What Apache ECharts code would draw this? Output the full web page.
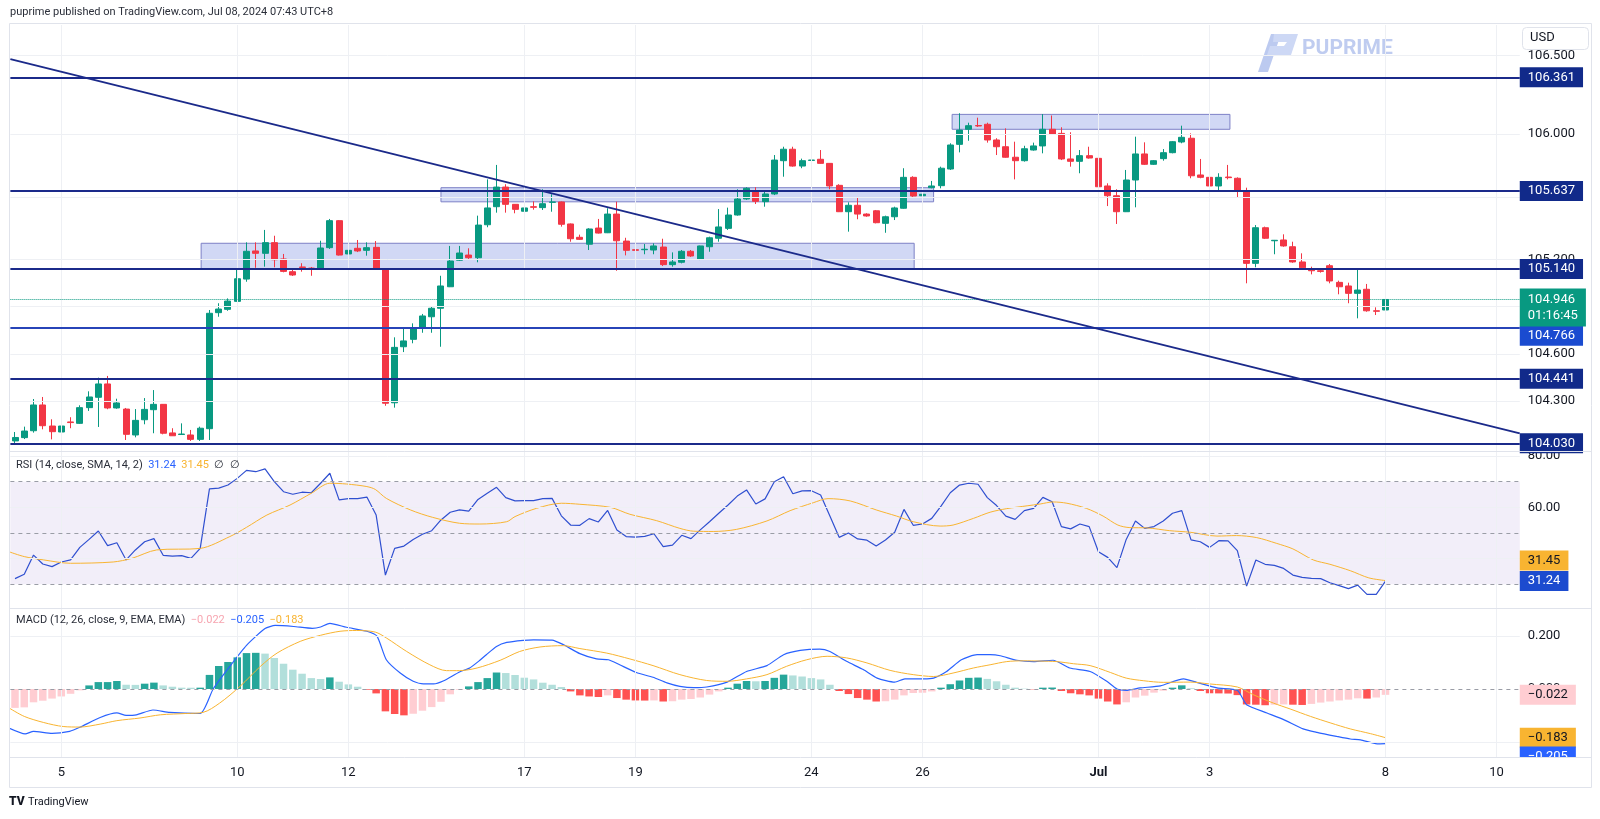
<!DOCTYPE html>
<html><head><meta charset="utf-8">
<script src="https://cdn.jsdelivr.net/npm/echarts@6/dist/echarts.min.js"></script>
<style>html,body{margin:0;padding:0;background:#fff}#c{width:1600px;height:819px}</style>
</head><body><div id="c"></div>
<script>
// ---------- DATA ----------
const opens = [104.045,104.066,104.110,104.274,104.140,104.102,104.166,104.157,104.257,104.323,
104.408,104.255,104.248,104.083,104.180,104.244,104.278,104.096,104.086,104.083,
104.055,104.123,104.862,104.883,104.934,105.076,105.255,105.240,105.308,105.204,
105.123,105.153,105.146,105.142,105.276,105.448,105.236,105.272,105.259,105.278,
105.138,104.288,104.645,104.692,104.769,104.836,104.890,105.027,105.196,105.229,
105.212,105.422,105.537,105.662,105.552,105.508,105.537,105.531,105.565,105.567,
105.427,105.342,105.298,105.401,105.371,105.490,105.318,105.263,105.263,105.261,
105.280,105.168,105.183,105.253,105.202,105.282,105.336,105.399,105.484,105.586,
105.635,105.569,105.618,105.830,105.903,105.796,105.832,105.839,105.813,105.673,
105.505,105.546,105.490,105.511,105.431,105.473,105.527,105.724,105.607,105.658,
105.671,105.777,105.934,106.030,106.054,106.062,105.962,105.919,105.852,105.830,
105.898,105.924,106.030,106.004,105.841,105.826,105.862,105.845,105.669,105.607,
105.505,105.707,105.873,105.807,105.843,105.881,105.949,105.973,105.739,105.724,
105.669,105.726,105.718,105.633,105.176,105.403,105.320,105.325,105.282,105.185,
105.140,105.129,105.161,105.055,105.032,104.985,105.011,104.874,104.879];
const closes = [104.067,104.108,104.274,104.142,104.104,104.140,104.162,104.257,104.325,104.408,
104.255,104.287,104.087,104.176,104.246,104.278,104.094,104.078,104.089,104.055,
104.126,104.858,104.885,104.936,105.078,105.253,105.240,105.308,105.199,105.125,
105.102,105.150,105.142,105.274,105.448,105.229,105.259,105.255,105.276,105.138,
104.285,104.641,104.682,104.763,104.841,104.890,105.032,105.191,105.242,105.212,
105.420,105.529,105.662,105.552,105.520,105.529,105.533,105.556,105.567,105.425,
105.333,105.329,105.395,105.369,105.490,105.320,105.259,105.259,105.266,105.287,
105.168,105.185,105.253,105.223,105.287,105.339,105.408,105.484,105.586,105.654,
105.571,105.618,105.834,105.903,105.796,105.830,105.834,105.813,105.669,105.505,
105.546,105.490,105.478,105.435,105.473,105.529,105.724,105.605,105.616,105.669,
105.782,105.930,106.025,106.053,106.051,105.962,105.919,105.852,105.830,105.906,
105.924,106.030,106.000,105.841,105.826,105.862,105.847,105.664,105.607,105.505,
105.707,105.873,105.807,105.830,105.881,105.951,105.979,105.734,105.724,105.669,
105.724,105.722,105.643,105.176,105.403,105.336,105.323,105.287,105.185,105.148,
105.129,105.125,105.064,105.027,104.985,105.006,104.874,104.871,104.946];
const lows = [104.032,104.057,104.098,104.119,104.055,104.098,104.126,104.153,104.236,104.134,
104.247,104.250,104.051,104.068,104.151,104.094,104.087,104.077,104.083,104.045,
104.045,104.051,104.836,104.874,104.932,105.059,105.148,105.155,105.151,105.119,
105.096,105.123,105.097,105.140,105.268,105.226,105.183,105.248,105.225,105.134,
104.269,104.257,104.611,104.667,104.734,104.734,104.645,105.025,105.191,105.204,
105.183,105.406,105.499,105.499,105.495,105.490,105.518,105.516,105.505,105.410,
105.314,105.325,105.261,105.366,105.369,105.129,105.227,105.240,105.234,105.234,
105.159,105.155,105.176,105.217,105.197,105.250,105.314,105.389,105.480,105.580,
105.554,105.537,105.611,105.728,105.792,105.782,105.807,105.811,105.648,105.503,
105.378,105.457,105.473,105.431,105.371,105.452,105.524,105.597,105.590,105.654,
105.654,105.771,105.883,105.957,106.045,105.945,105.866,105.849,105.711,105.824,
105.894,105.877,105.994,105.834,105.792,105.750,105.843,105.654,105.541,105.427,
105.503,105.533,105.803,105.803,105.830,105.877,105.941,105.718,105.718,105.664,
105.639,105.711,105.594,105.049,105.151,105.331,105.234,105.282,105.180,105.134,
105.106,105.117,105.049,104.979,104.922,104.826,104.868,104.847,104.876];
const highs = [104.102,104.136,104.312,104.325,104.183,104.157,104.196,104.272,104.361,104.448,
104.459,104.314,104.255,104.248,104.318,104.369,104.280,104.126,104.157,104.115,
104.136,104.879,104.922,104.953,105.134,105.310,105.310,105.389,105.352,105.236,
105.134,105.177,105.153,105.320,105.459,105.452,105.280,105.325,105.310,105.318,
105.146,104.705,104.763,104.794,104.854,104.900,105.097,105.287,105.287,105.272,
105.480,105.711,105.803,105.680,105.554,105.559,105.571,105.648,105.616,105.570,
105.430,105.359,105.400,105.459,105.527,105.569,105.339,105.287,105.299,105.304,
105.333,105.246,105.261,105.261,105.289,105.346,105.522,105.531,105.648,105.661,
105.661,105.633,105.866,105.919,105.919,105.843,105.898,105.898,105.815,105.680,
105.565,105.597,105.495,105.516,105.480,105.537,105.782,105.731,105.654,105.701,
105.792,105.941,106.132,106.072,106.104,106.072,105.973,106.036,105.951,105.925,
105.945,106.127,106.118,106.043,106.011,105.898,105.919,105.849,105.686,105.648,
105.771,105.983,105.947,105.834,105.904,105.955,106.053,106.004,105.841,105.733,
105.750,105.803,105.724,105.658,105.420,105.410,105.325,105.361,105.314,105.240,
105.155,105.145,105.172,105.066,105.053,105.145,105.045,104.896,104.987];

const rsi = [32.2,33.9,41.4,37.9,36.9,38.7,39.5,44.4,47.5,50.8,
45.1,46.2,39.5,43.4,46.6,47.8,41.3,41.0,41.2,40.1,
44.0,67.2,67.5,68.7,71.3,74.4,73.9,75.0,70.0,66.1,
65.1,65.9,65.7,69.4,73.3,62.9,63.4,63.4,64.0,57.0,
33.6,44.0,44.9,47.5,49.5,50.9,55.1,58.1,59.0,58.5,
63.1,65.5,67.8,63.8,62.5,62.6,62.6,63.4,63.5,56.7,
53.1,53.0,55.6,54.3,58.8,51.2,48.6,48.4,48.7,49.7,
44.7,45.3,49.1,47.8,51.2,54.4,57.7,60.9,64.4,66.8,
61.3,63.3,70.0,71.9,65.3,66.4,66.5,64.8,56.6,48.3,
50.0,47.7,47.2,44.9,47.3,50.3,59.2,53.0,53.5,55.7,
60.5,65.7,68.7,69.4,69.0,63.8,60.7,56.6,55.3,58.7,
59.6,63.9,62.2,52.5,51.6,53.5,52.5,42.7,40.5,36.5,
47.5,54.7,51.8,52.5,54.7,57.7,58.7,47.3,46.6,44.4,
47.0,46.9,43.1,29.3,39.5,37.8,37.4,36.2,33.6,32.7,
32.3,32.2,30.6,29.5,28.3,29.7,26.1,26.1,31.24];
// RSI smoothing line: [bar index, value]
const rsiSma = [[-0.65,42.7],[1,40.8],[3.1,39.5],[6,38.2],[10.6,38.7],[12.6,40.1],[15.3,43.4],[20,44.0],[23.2,48.6],[25,52.2],
[27.2,57.0],[29.7,60.9],[32,65.5],[34,69.4],[35.8,69.1],[38,68.1],[38.9,67.0],[40.1,63.5],[42.7,59.0],[45.1,56.1],
[48,53.8],[50.2,53.5],[53.1,54.4],[54,56.4],[56.3,59.6],[59,61.6],[61,61.2],[64.3,60.0],[66.4,57.3],[69.3,54.8],
[71.8,51.8],[73.3,50.7],[75.4,50.6],[77.9,51.4],[81.2,54.7],[83.7,58.7],[86.2,61.8],[87.8,63.4],[90.2,62.5],[93,59.0],
[95.2,56.6],[97,54.4],[99.9,52.7],[101.3,53.1],[103.5,55.7],[105.3,58.1],[107.1,59.5],[109.3,60.6],[110.7,61.3],[112.1,62.1],
[113.6,61.6],[115.7,59.6],[117.5,56.6],[119.1,53.1],[120.4,52.1],[122.2,52.0],[124.7,50.9],[126.9,50.3],[129.8,48.8],[131.9,49.0],
[134.1,48.2],[136.2,46.0],[138,43.8],[140.2,39.5],[142,37.8],[144.2,35.3],[146.2,32.5],[148,31.45]];

const macdLine = [[-0.65,-0.147],[1.1,-0.169],[2,-0.159],[4,-0.167],[5.9,-0.159],[7,-0.144],[9.2,-0.107],[11,-0.090],[12,-0.099],[13.1,-0.097],
[14.9,-0.079],[16.7,-0.088],[20,-0.092],[21.4,0.0],[23.2,0.085],[25,0.164],[27,0.227],[28.1,0.239],[30.1,0.235],[32.1,0.228],
[33,0.233],[34,0.247],[35.8,0.232],[38,0.217],[39.1,0.198],[40.1,0.110],[41.6,0.060],[43,0.029],[44.1,0.019],[45.2,0.019],
[46.3,0.031],[48,0.064],[49.1,0.079],[50.2,0.108],[50.9,0.129],[52,0.160],[53.1,0.175],[54.9,0.183],[56,0.185],[58,0.184],
[59.2,0.167],[61,0.133],[62.8,0.113],[64.1,0.110],[65.3,0.091],[67.1,0.062],[68.9,0.044],[70.4,0.023],[71.8,0.010],[73.3,0.005],
[74.7,0.0075],[76.9,0.026],[79,0.066],[81.2,0.088],[83,0.129],[84.8,0.145],[86.9,0.150],[88,0.141],[89.8,0.104],[91.6,0.073],
[93.1,0.041],[95,0.026],[96.1,0.038],[98.1,0.038],[99.2,0.041],[100.6,0.066],[102.2,0.110],[103.9,0.129],[105.3,0.129],[106.4,0.125],
[108.2,0.108],[110,0.103],[112.1,0.108],[113.9,0.079],[116.1,0.066],[117.9,0.029],[119,0.0],[120,-0.005],[121.5,0.004],[123.7,0.012],
[126.2,0.038],[127.6,0.025],[129.8,0.004],[132,-0.005],[133,-0.059],[135.2,-0.090],[137,-0.115],[139.1,-0.150],[140.6,-0.163],[142.7,-0.178],
[144.2,-0.188],[145.3,-0.191],[147.1,-0.206],[148,-0.205]];
const signalLine = [[-0.65,-0.071],[1,-0.103],[3.1,-0.126],[5.2,-0.141],[7,-0.143],[9.2,-0.132],[11,-0.119],[13.5,-0.109],[15.7,-0.097],[18.5,-0.092],
[20.3,-0.088],[22.1,-0.053],[24.3,0.010],[26.5,0.085],[28.3,0.135],[30.8,0.179],[33,0.202],[35.1,0.217],[36.9,0.220],[38.9,0.214],
[40.1,0.192],[42.3,0.141],[44.8,0.091],[46.6,0.069],[48,0.069],[49.9,0.079],[52.4,0.108],[54.5,0.141],[56.7,0.158],[59.2,0.163],
[61,0.152],[63.9,0.135],[66.4,0.113],[68.9,0.088],[71.8,0.054],[74.7,0.032],[76.9,0.029],[79,0.038],[81.2,0.054],[83.3,0.085],
[85.5,0.110],[87.7,0.123],[89.8,0.117],[92,0.098],[94.5,0.070],[97,0.054],[99.2,0.047],[101.3,0.060],[103.5,0.079],[105.3,0.091],
[107.1,0.103],[108.9,0.106],[110.7,0.105],[112.5,0.103],[114.3,0.095],[116.1,0.088],[118.3,0.062],[120,0.041],[121.9,0.031],[124,0.025],
[126.9,0.026],[129,0.019],[132,0.0075],[133.7,-0.021],[135.9,-0.053],[137.7,-0.075],[139.9,-0.103],[142.1,-0.128],[144.2,-0.150],[146.4,-0.168],
[148,-0.183]];
const macdHist = [-0.071,-0.069,-0.050,-0.044,-0.036,-0.028,-0.018,-0.005,0.0135,0.026,
0.026,0.030,0.016,0.0155,0.020,0.024,0.0135,0.0086,0.005,0.0048,
0.005,0.053,0.0865,0.1015,0.119,0.135,0.136,0.133,0.1165,0.095,
0.0726,0.0575,0.041,0.0376,0.0436,0.0274,0.0173,0.0086,-0.0026,-0.0165,
-0.084,-0.094,-0.099,-0.093,-0.0816,-0.068,-0.048,-0.020,-0.003,0.0098,
0.026,0.041,0.062,0.060,0.0526,0.0425,0.036,0.0237,0.016,0.0075,
-0.009,-0.024,-0.028,-0.030,-0.024,-0.034,-0.040,-0.043,-0.0435,-0.043,
-0.047,-0.046,-0.040,-0.0376,-0.032,-0.021,-0.009,0.005,0.020,0.030,
0.029,0.030,0.042,0.054,0.051,0.047,0.041,0.036,0.016,-0.0075,
-0.019,-0.034,-0.040,-0.047,-0.046,-0.040,-0.024,-0.015,-0.014,-0.009,
0.005,0.018,0.032,0.042,0.043,0.038,0.029,0.016,0.005,0.0013,
-0.0013,0.005,0.0055,-0.0075,-0.016,-0.020,-0.024,-0.036,-0.047,-0.058,
-0.050,-0.032,-0.025,-0.0137,-0.0063,0.005,0.0138,0.003,-0.0075,-0.016,
-0.0165,-0.017,-0.023,-0.058,-0.059,-0.061,-0.059,-0.058,-0.059,-0.060,
-0.056,-0.051,-0.047,-0.043,-0.040,-0.035,-0.036,-0.032,-0.022];

const dayLabelIdx  = [5, 24, 36, 55, 67, 86, 98, 117, 129, 148, 160];
const dayLabelText = ['5','10','12','17','19','24','26','Jul','3','8','10'];
const levels = [106.361, 105.637, 105.140, 104.766, 104.441, 104.030];
// rectangles: [startBar, topPrice, endBar, bottomPrice]
const boxes = [[20.1,105.304,97.1,105.140],[46.0,105.658,99.2,105.568],[101.2,106.125,131.2,106.030]];
const trend = [[-0.5,106.477],[162.5,104.093]];
const priceTicks = [106.5, 106.0, 105.6, 105.2, 104.9, 104.6, 104.3];
const rsiTicks = [80, 60];
const rsiGrid = [80, 60, 40];
const rsiBands = [70, 50, 30];
const macdTicks = [0.2, 0];
const macdGrid = [0.2, -0.2];
const countdown = '01:16:45';
const headerText = 'puprime published on TradingView.com, Jul 08, 2024 07:43 UTC+8';
const N = 163; // bar slots on the time axis (incl. empty future space)

// ---------- LAYOUT / STYLE ----------
const F = 'Roboto, "Noto Sans", sans-serif';
const L = 10.37, W = 1509.4;
const UP = '#089981', DOWN = '#f23645';
const NAVY = '#1b2a8a', NAVYBG = '#112a8a';
const ORANGE = '#f8b431', BLUE = '#2962ff', RSIBLUE = '#2f4fd0';
const GRIDC = '#eef0f4';
const HIDDEN = {color: 'rgba(0,0,0,0)', width: 1, type: 'solid'};
const last = closes[closes.length - 1];
const lastRsi = rsi[rsi.length - 1], lastSma = rsiSma[rsiSma.length - 1][1];
const lastHist = macdHist[macdHist.length - 1];
const lastMacd = macdLine[macdLine.length - 1][1], lastSig = signalLine[signalLine.length - 1][1];
const fmt = v => (v < 0 ? '\u2212' : '') + Math.abs(v).toFixed(3);

const cats = Array.from({length: N}, (_, i) => String(i));
const labelMap = {};
dayLabelIdx.forEach((i, k) => labelMap[i] = dayLabelText[k]);

const grids = [
  {left: L, width: W, top: 25, height: 426},
  {left: L, width: W, top: 451, height: 157},
  {left: L, width: W, top: 608, height: 149}
];
const catAxis = (gi, show) => ({
  type: 'category', gridIndex: gi, data: cats, boundaryGap: true,
  axisLine: {show: false}, axisTick: {show: false}, splitLine: {show: false},
  axisLabel: show ? {
    show: true, interval: 0, margin: 9, color: '#131722', fontSize: 13, fontFamily: F,
    formatter: (v, i) => { const t = labelMap[i] || ''; return t === 'Jul' ? '{m|Jul}' : t; },
    rich: {m: {fontWeight: 'bold', fontSize: 13, color: '#131722', fontFamily: F}}
  } : {show: false}
});
const valAxis = gi => ({type: 'value', gridIndex: gi, min: -0.5, max: N - 0.5, show: false});

function labelBox(bg, fg, extra) {
  return Object.assign({show: true, position: 'end', distance: 0, backgroundColor: bg, color: fg,
    fontSize: 13, fontFamily: F, padding: [3, 8, 2, 8], lineHeight: 15}, extra || {});
}
function histColor(i) {
  const v = macdHist[i], p = i > 0 ? macdHist[i - 1] : -Infinity;
  if (v >= 0) return v >= p ? '#26a69a' : '#b2dfdb';
  return v < p ? '#ff5252' : '#ffcdd2';
}
const vGrid = dayLabelIdx.map(i => ({xAxis: i}));

const option = {
  animation: false,
  backgroundColor: '#ffffff',
  grid: grids.map(g => Object.assign({containLabel: false, outerBoundsMode: 'none'}, g)),
  xAxis: [catAxis(0, false), catAxis(1, false), catAxis(2, true), valAxis(0), valAxis(1), valAxis(2)],
  yAxis: [
    {type: 'value', gridIndex: 0, position: 'right', min: 103.9809, max: 106.6943, scale: true,
      axisLine: {show: false}, axisTick: {show: false}, splitLine: {show: false},
      axisLabel: {customValues: priceTicks, margin: 8, color: '#131722', fontSize: 13, fontFamily: F, formatter: v => v.toFixed(3)}},
    {type: 'value', gridIndex: 1, position: 'right', min: 20.76, max: 81.97,
      axisLine: {show: false}, axisTick: {show: false}, splitLine: {show: false},
      axisLabel: {customValues: rsiTicks, margin: 8, color: '#131722', fontSize: 13, fontFamily: F, formatter: v => v.toFixed(2)}},
    {type: 'value', gridIndex: 2, position: 'right', min: -0.2556, max: 0.3045,
      axisLine: {show: false}, axisTick: {show: false}, splitLine: {show: false},
      axisLabel: {customValues: macdTicks, margin: 8, color: '#131722', fontSize: 13, fontFamily: F, formatter: v => v.toFixed(3)}}
  ],
  series: [
    // grid lines (behind everything)
    {type: 'line', xAxisIndex: 3, yAxisIndex: 0, data: [], z: 0, silent: true,
      markLine: {silent: true, symbol: 'none', label: {show: false}, lineStyle: {color: GRIDC, width: 1, type: 'solid'},
        data: vGrid.concat(priceTicks.map(v => ({yAxis: v})))}},
    {type: 'line', xAxisIndex: 4, yAxisIndex: 1, data: [], z: 0, silent: true,
      markArea: {silent: true, itemStyle: {color: 'rgba(126,87,194,0.1)'}, data: [[{yAxis: rsiBands[0]}, {yAxis: rsiBands[2]}]]},
      markLine: {silent: true, symbol: 'none', label: {show: false}, lineStyle: {color: GRIDC, width: 1, type: 'solid'},
        data: vGrid.concat(rsiGrid.map(v => ({yAxis: v})))}},
    {type: 'line', xAxisIndex: 5, yAxisIndex: 2, data: [], z: 0, silent: true,
      markLine: {silent: true, symbol: 'none', label: {show: false}, lineStyle: {color: GRIDC, width: 1, type: 'solid'},
        data: vGrid.concat(macdGrid.map(v => ({yAxis: v})))}},
    // candles
    {type: 'candlestick', xAxisIndex: 0, yAxisIndex: 0, z: 2, barWidth: 6.5,
      data: opens.map((o, i) => [o, closes[i], lows[i], highs[i]]),
      itemStyle: {color: UP, color0: DOWN, borderColor: UP, borderColor0: DOWN, borderWidth: 1}},
    // drawings: trend line, boxes, level lines
    {type: 'line', xAxisIndex: 3, yAxisIndex: 0, data: trend, z: 5, symbol: 'none', silent: true,
      lineStyle: {color: NAVY, width: 2},
      markArea: {silent: true, itemStyle: {color: 'rgba(72,100,215,0.25)', borderColor: '#7d80c6', borderWidth: 1},
        data: boxes.map(b => [{coord: [b[0], b[1]]}, {coord: [b[2], b[3]]}])},
      markLine: {silent: true, symbol: 'none', precision: 3, data: levels.map(v => {
          const hi = v === 104.766;
          return {yAxis: v, lineStyle: {color: hi ? '#2744b8' : NAVY, width: 2, type: 'solid'},
            label: labelBox(hi ? '#1a4bd0' : NAVYBG, '#ffffff', {formatter: () => v.toFixed(3), offset: hi ? [0, 8] : [0, 0]})};
        }).concat([{yAxis: last, lineStyle: {color: UP, width: 1, type: 'dotted'},
            label: labelBox(UP, '#ffffff', {formatter: () => last.toFixed(3) + '\n' + countdown, lineHeight: 16, padding: [3, 8, 3, 8], offset: [0, 8]})}])}},
    // RSI
    {type: 'line', xAxisIndex: 1, yAxisIndex: 1, data: rsi, z: 3, symbol: 'none', silent: true,
      lineStyle: {color: RSIBLUE, width: 1.2},
      markLine: {silent: true, symbol: 'none', precision: 2, data: rsiBands.map(v => ({yAxis: v, lineStyle: {color: '#9a9da6', width: 1, type: [4, 4]}, label: {show: false}}))
        .concat([{yAxis: lastRsi, lineStyle: HIDDEN, label: labelBox('#1c4bcf', '#ffffff', {formatter: () => lastRsi.toFixed(2)})},
                 {yAxis: lastSma, lineStyle: HIDDEN, label: labelBox(ORANGE, '#131722', {formatter: () => lastSma.toFixed(2), offset: [0, -20]})}])}},
    {type: 'line', xAxisIndex: 4, yAxisIndex: 1, data: rsiSma, z: 3, symbol: 'none', silent: true, smooth: 0.3,
      lineStyle: {color: ORANGE, width: 1}},
    // MACD
    {type: 'bar', xAxisIndex: 2, yAxisIndex: 2, data: macdHist, z: 2, barWidth: 7.5, silent: true,
      itemStyle: {color: p => histColor(p.dataIndex)},
      markLine: {silent: true, symbol: 'none', precision: 3, data: [
        {yAxis: 0, lineStyle: {color: '#9a9da6', width: 1, type: [4, 4]}, label: {show: false}},
        {yAxis: lastHist, lineStyle: HIDDEN, label: labelBox('#ffcdd2', '#131722', {formatter: () => fmt(lastHist)})},
        {yAxis: lastSig, lineStyle: HIDDEN, label: labelBox(ORANGE, '#131722', {formatter: () => fmt(lastSig)})},
        {yAxis: lastMacd, lineStyle: HIDDEN, label: labelBox(BLUE, '#ffffff', {formatter: () => fmt(lastMacd), offset: [0, 13]})}
      ]}},
    {type: 'line', xAxisIndex: 5, yAxisIndex: 2, data: macdLine, z: 3, symbol: 'none', silent: true, smooth: 0.2,
      lineStyle: {color: BLUE, width: 1.2}},
    {type: 'line', xAxisIndex: 5, yAxisIndex: 2, data: signalLine, z: 3, symbol: 'none', silent: true, smooth: 0.3,
      lineStyle: {color: ORANGE, width: 1}}
  ],
  graphic: [
    // frame & pane separators
    {type: 'rect', z: 50, silent: true, shape: {x: 9.5, y: 23.5, width: 1582, height: 764}, style: {fill: 'none', stroke: '#e0e3eb', lineWidth: 1}},
    {type: 'line', z: 50, silent: true, shape: {x1: 9, y1: 451.5, x2: 1592, y2: 451.5}, style: {stroke: '#e0e3eb', lineWidth: 1}},
    {type: 'line', z: 50, silent: true, shape: {x1: 9, y1: 608.5, x2: 1592, y2: 608.5}, style: {stroke: '#e0e3eb', lineWidth: 1}},
    {type: 'line', z: 50, silent: true, shape: {x1: 9, y1: 757.5, x2: 1592, y2: 757.5}, style: {stroke: '#e0e3eb', lineWidth: 1}},
    {type: 'rect', z: 60, silent: true, shape: {x: 1518, y: 758, width: 73, height: 12}, style: {fill: '#ffffff'}},
    // header
    {type: 'text', z: 60, left: 10, top: 7, style: {text: headerText, fill: '#2a2e39', font: '11px ' + F}},
    // footer logo
    {type: 'text', z: 60, left: 9, top: 796, style: {text: 'TV', fill: '#131722', font: '900 12px ' + F}},
    {type: 'text', z: 60, left: 28, top: 797, style: {text: 'TradingView', fill: '#131722', font: '11px ' + F}},
    // USD box
    {type: 'rect', z: 60, silent: true, shape: {x: 1522.5, y: 27.5, width: 66, height: 22, r: 4}, style: {fill: '#ffffff', stroke: '#e0e3eb', lineWidth: 1}},
    {type: 'text', z: 61, left: 1530, top: 31, style: {text: 'USD', fill: '#131722', font: '13px ' + F}},
    // watermark
    {type: 'polygon', z: 1, silent: true, shape: {points: [[1258, 72], [1268, 72], [1281, 34], [1271, 34]]}, style: {fill: '#bccaf0'}},
    {type: 'polygon', z: 1, silent: true, shape: {points: [[1274, 34], [1298, 34], [1291, 55], [1267, 55], [1270, 46], [1284, 46], [1287, 42], [1273, 42]]}, style: {fill: '#cdd8f5'}},
    {type: 'text', z: 1, left: 1302, top: 38, style: {text: 'PUPRIME', fill: '#bfccf0', font: 'bold 21px ' + F}},
    // pane legends
    {type: 'text', z: 60, left: 16, top: 460, style: {
      text: 'RSI (14, close, SMA, 14, 2)  {b|' + lastRsi.toFixed(2) + '}  {o|' + lastSma.toFixed(2) + '}  \u2205  \u2205',
      fill: '#2a2e39', font: '11px ' + F,
      rich: {b: {fill: BLUE, font: '11px ' + F}, o: {fill: ORANGE, font: '11px ' + F}}}},
    {type: 'text', z: 60, left: 16, top: 615, style: {
      text: 'MACD (12, 26, close, 9, EMA, EMA)  {p|' + fmt(lastHist) + '}  {b|' + fmt(lastMacd) + '}  {o|' + fmt(lastSig) + '}',
      fill: '#2a2e39', font: '11px ' + F,
      rich: {p: {fill: '#f7a5b0', font: '11px ' + F}, b: {fill: BLUE, font: '11px ' + F}, o: {fill: ORANGE, font: '11px ' + F}}}}
  ]
};
const chart = echarts.init(document.getElementById('c'), null, {renderer: 'canvas'});
chart.setOption(option);
</script>
</body></html>
